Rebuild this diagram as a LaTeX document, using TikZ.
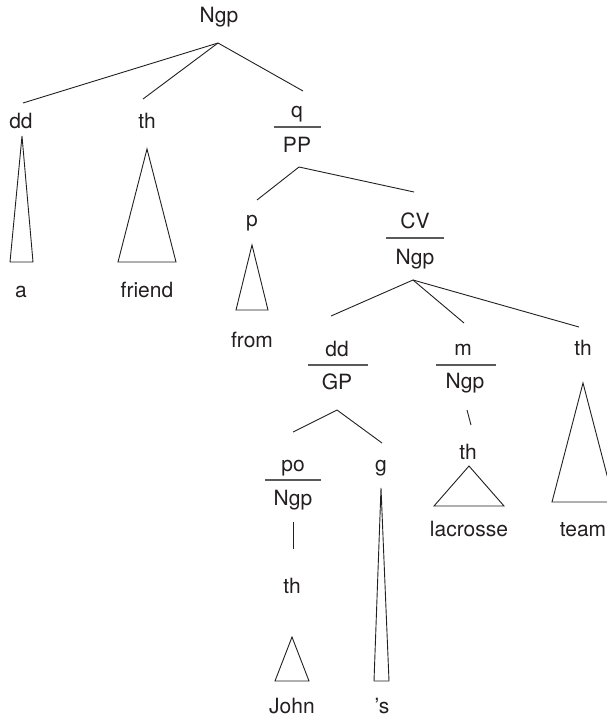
\documentclass[tikz,border=0pt]{standalone}
\usepackage{fontspec}
\setmainfont{TeX Gyre Heros}
\usepackage{xcolor}
\usepackage{tikz}
\definecolor{inkgray}{HTML}{231F20}
\definecolor{bargray}{HTML}{5A5A5A}
\tikzset{
  lbl/.style={
    anchor=base, inner sep=0pt, text=inkgray,
    font=\fontsize{21}{25}\selectfont
  },
  branch/.style={draw=inkgray, line width=0.9pt},
  bar/.style={draw=bargray, line width=1.3pt},
  tri/.style={draw=inkgray, line width=0.9pt, line join=miter},
}
\begin{document}
\begin{tikzpicture}[x=1pt, y=-1pt]
\useasboundingbox (0,0) rectangle (607,720);

% Top level
\node[lbl] (ngp) at (219,23) {Ngp};
\coordinate (ngpB) at (218,43);

\node[lbl] (dd) at (21,128)  {dd};
\node[lbl] (th) at (147,128) {th};
\node[lbl] (q)  at (297,117) {q};
\node[lbl] (pp) at (297,152) {PP};
\draw[bar] (274,127) -- (321,127);

\coordinate (ddT) at (23,103);
\coordinate (thT) at (143,99);
\coordinate (qT)  at (303,91);
\draw[branch] (ngpB) -- (ddT);
\draw[branch] (ngpB) -- (thT);
\draw[branch] (ngpB) -- (qT);

% Roofs under dd and th
\draw[tri] (22,136) -- (33,262) -- (10,262) -- cycle;
\node[lbl] (a) at (21,297) {a};
\draw[tri] (147,149) -- (176,262) -- (118,262) -- cycle;
\node[lbl] (friend) at (147,297) {friend};

% PP
\coordinate (ppB) at (299,167);
\node[lbl] (p)    at (252,226) {p};
\node[lbl] (cv)   at (415,228) {CV};
\node[lbl] (cvN)  at (415,264) {Ngp};
\draw[bar] (386,238) -- (444,238);
\coordinate (pT)  at (257,200);
\coordinate (cvT) at (414,192);
\draw[branch] (ppB) -- (pT);
\draw[branch] (ppB) -- (cvT);

\draw[tri] (252,245) -- (268,310) -- (236,310) -- cycle;
\node[lbl] (from) at (252,347) {from};

% CV / Ngp
\coordinate (cvB) at (413,280);
\node[lbl] (dd2) at (337,356) {dd};
\node[lbl] (gp)  at (337,389) {GP};
\draw[bar] (308,365) -- (368,365);
\node[lbl] (m)   at (463,355) {m};
\node[lbl] (mN)  at (465,388) {Ngp};
\draw[bar] (436,365) -- (496,365);
\node[lbl] (th2) at (583,355) {th};
\coordinate (dd2T) at (331,316);
\coordinate (mT)   at (464,323);
\coordinate (th2T) at (579,327);
\draw[branch] (cvB) -- (dd2T);
\draw[branch] (cvB) -- (mT);
\draw[branch] (cvB) -- (th2T);

\draw[tri] (583,383) -- (614,502) -- (552,502) -- cycle;
\node[lbl] (team) at (583,536) {team};

% GP
\coordinate (gpB) at (337,410);
\node[lbl] (po)  at (293,471) {po};
\node[lbl] (poN) at (293,505) {Ngp};
\draw[bar] (265,480) -- (321,480);
\node[lbl] (g)   at (381,471) {g};
\coordinate (poT) at (293,432);
\coordinate (gT)  at (382,443);
\draw[branch] (gpB) -- (poT);
\draw[branch] (gpB) -- (gT);

\coordinate (poB)  at (293,522);
\coordinate (th3T) at (293,549);
\draw[branch] (poB) -- (th3T);
\node[lbl] (th3) at (292,593) {th};
\draw[tri] (292,637) -- (309,681) -- (275,681) -- cycle;
\node[lbl] (john) at (292,713) {John};

\draw[tri] (381,488) -- (389,681) -- (374,681) -- cycle;
\node[lbl] (poss) at (382,713) {’s};

% m / Ngp
\coordinate (mB)   at (467,410);
\coordinate (th4T) at (471,425);
\draw[branch] (mB) -- (th4T);
\node[lbl] (th4) at (468,459) {th};
\draw[tri] (469,466) -- (504,506) -- (434,506) -- cycle;
\node[lbl] (lacrosse) at (469,536) {lacrosse};

\end{tikzpicture}
\end{document}
